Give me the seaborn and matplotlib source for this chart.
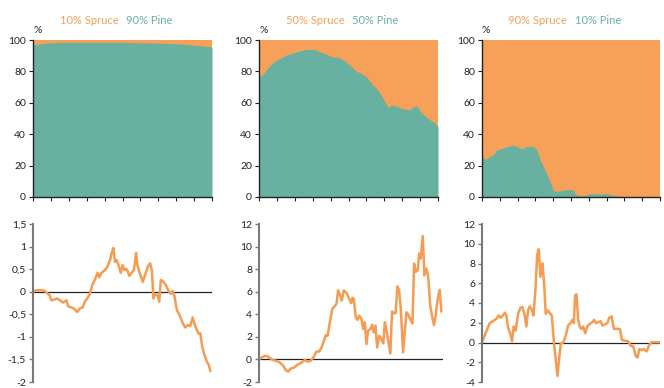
"""Pine share (top) and difference curves (bottom) for three spruce/pine mixes."""
import matplotlib
matplotlib.use("Agg")
import matplotlib.pyplot as plt
import numpy as np
import pandas as pd
import seaborn as sns

ORANGE = "#F6A05A"
TEAL = "#68B0A0"
LINE = "#F59B52"

titles = [("10% Spruce", "90% Pine"), ("50% Spruce", "50% Pine"), ("90% Spruce", "10% Pine")]

# top row: pine share (%) over time, spruce fills the rest up to 100
pine1_x = [0, 3, 8, 14, 30, 50, 60, 70, 80, 85, 90, 95, 100]
pine1_y = [97.2, 97.4, 98.0, 98.5, 98.5, 98.5, 98.2, 98.0, 97.6, 97.2, 96.7, 96.1, 95.6]

pine2_x = [0, 2.2, 6, 9.7, 15.3, 20.9, 26.4, 31.1, 33.9, 37.6, 41.3, 44.1, 47.9, 50.7,
           52.5, 54.4, 56.2, 59.9, 63.7, 66.5, 69.3, 72.1, 73.9, 76.7, 79.5, 82.3, 84.2,
           86, 88.3, 90.7, 93.5, 96.3, 98.1, 100]
pine2_y = [76.6, 78, 83.6, 87, 90.4, 92.5, 94, 94, 92.5, 91, 89, 89, 86.8, 84, 82.3,
           79.8, 79.4, 76.6, 71.3, 68, 62.8, 57, 58.5, 58, 56.4, 56, 55.3, 57.4, 58,
           53.6, 51, 48.5, 47.2, 45]

pine3_x = [0, 1.9, 4.7, 6.5, 8.4, 11.2, 14, 16.8, 19.6, 22.4, 25.2, 29, 30.8, 32.7, 35.5,
           38.3, 40.2, 43.9, 47.7, 51.4, 52.3, 54.2, 57.9, 60.7, 66.4, 70.1, 72, 75.7,
           81.3, 88.8, 100]
pine3_y = [25.5, 24, 26, 27, 30, 31, 32, 33, 32.3, 30.4, 32.3, 32, 30, 23.4, 17, 9.6,
           3.8, 3.8, 4.7, 4.7, 2, 1, 1, 2, 2, 2.1, 1.5, 0.6, 0.2, 0, 0]

# bottom row: difference curves
diff1_x = [0, 1.9, 4.7, 6.5, 8.4, 9.3, 10.3, 12.1, 13.5, 15, 16.8, 18.7, 19.6, 21.5, 22.8,
           24.7, 26.2, 27.7, 29, 30.3, 31.8, 33.1, 34.6, 36.1, 37, 38.3, 40.2, 41.5, 43,
           43.9, 44.9, 45.8, 46.7, 47.7, 49, 50.1, 51, 52, 52.9, 53.8, 55.1, 56.4, 57.6,
           58.3, 59.4, 61.3, 62.6, 64.1, 65.4, 66.4, 67.3, 68.2, 69.5, 70.5, 71.4, 72.9,
           74.2, 75.7, 77, 78.1, 79.1, 80.4, 81.9, 83.7, 85, 86.4, 87.9, 89.2, 90.7, 92.5,
           93.5, 94.4, 95.7, 97.2, 98.1, 99.1]
diff1_y = [0, 0.03, 0.03, 0.02, -0.05, -0.08, -0.19, -0.17, -0.15, -0.19, -0.24, -0.19,
           -0.32, -0.35, -0.37, -0.45, -0.37, -0.35, -0.22, -0.15, -0.05, 0.15, 0.27, 0.42,
           0.32, 0.42, 0.48, 0.55, 0.7, 0.85, 0.97, 0.66, 0.7, 0.6, 0.42, 0.59, 0.48, 0.51,
           0.46, 0.35, 0.42, 0.48, 0.86, 0.59, 0.44, 0.22, 0.37, 0.55, 0.63, 0.48, -0.15,
           -0.05, -0.08, -0.22, 0.26, 0.22, 0.15, 0.02, -0.05, 0.02, -0.11, -0.41, -0.52,
           -0.7, -0.79, -0.74, -0.76, -0.57, -0.77, -0.93, -0.92, -1.19, -1.39, -1.56,
           -1.61, -1.76]

diff2_x = [0, 1.4, 3.3, 4.5, 6, 7.8, 9.6, 11.4, 13.2, 14.6, 15.9, 17.2, 19, 20.8, 23.1, 25,
           26.2, 28, 29.5, 31.3, 32.7, 34, 35.3, 36.3, 37.3, 38.5, 39.8, 41.2, 42.1, 43,
           43.9, 45, 46.1, 47.6, 49, 50.1, 50.8, 51.5, 52.6, 53.5, 54.4, 55.7, 56.6, 57.5,
           58.4, 59.3, 60.6, 61.5, 62.4, 63.3, 64.2, 65.3, 66.5, 67.5, 68.4, 69.3, 70.2,
           71.4, 72.3, 73.4, 74.3, 75.2, 76.1, 77, 78.3, 79.2, 80.1, 81, 82.3, 83.4, 84.3,
           85.2, 86.3, 87, 87.9, 89, 89.9, 90.9, 91.9, 93.1, 94.2, 95.1, 96, 97.1, 98.2, 99.1]
diff2_y = [0, 0.17, 0.32, 0.29, 0.1, -0.07, -0.13, -0.28, -0.57, -0.96, -1.08, -0.81,
           -0.72, -0.48, -0.28, -0.04, -0.19, -0.13, 0.17, 0.7, 0.7, 1.06, 1.65, 2.16, 2.1,
           3.29, 4.48, 4.72, 4.93, 6.11, 5.76, 5.22, 6.11, 5.88, 5.37, 4.99, 5.46, 5.37,
           3.73, 3.5, 3.88, 3.59, 2.7, 3.29, 1.36, 2.55, 2.7, 3.08, 2.4, 2.99, 1.06, 2.1,
           1.8, 1.42, 3.29, 2.55, 1.65, 0.53, 4.24, 4.09, 4.12, 6.47, 6.17, 4.63, 0.62, 2.4,
           4.18, 4.03, 3.5, 3.2, 8.49, 7.75, 7.9, 9.38, 8.94, 10.93, 7.45, 8.05, 7.45, 4.69,
           3.73, 3.05, 3.88, 5.37, 6.17, 4.24]

diff3_x = [0, 1.5, 3, 4.3, 6.2, 8.1, 9.4, 10.5, 11.8, 12.8, 13.7, 14.6, 15.9, 16.9, 17.8,
           18.9, 20.3, 21.6, 22.7, 24, 24.9, 25.9, 26.8, 28, 28.9, 30, 31, 31.9, 32.8, 34,
           34.9, 35.8, 37, 38.1, 39.2, 40.5, 41.5, 42.4, 43.3, 44.3, 45.6, 46.9, 48.4, 49.7,
           50.8, 51.6, 52.3, 53.1, 54, 55, 55.9, 56.8, 58, 59.1, 60.6, 62.1, 62.9, 64, 65.3,
           66.6, 67.7, 69, 70.4, 71.5, 72.8, 74.1, 75.6, 77.5, 78.6, 80.3, 82.2, 83.5, 85,
           86.3, 87.4, 88.4, 89.7, 91, 92.5, 94, 95.3, 97.2, 100]
diff3_y = [0, 0.7, 1.38, 1.96, 2.16, 2.4, 2.74, 2.5, 2.74, 3.01, 2.74, 1.55, 0.87, 0.12,
           1.62, 1.21, 2.91, 3.52, 3.59, 2.74, 1.62, 3.25, 3.66, 3.32, 2.74, 5.29, 8.87,
           9.45, 6.65, 8.02, 5.97, 2.91, 3.25, 2.98, 2.74, -0.15, -1.86, -3.39, -1.69,
           -0.09, 0, 0.6, 1.72, 1.96, 2.3, 1.96, 4.78, 4.88, 2.3, 1.55, 1.38, 1.62, 0.94,
           1.62, 1.89, 2.06, 2.3, 1.96, 2.06, 2.16, 1.72, 1.82, 1.96, 2.5, 2.64, 1.38, 1.38,
           1.38, 0.26, 0.19, 0.12, -0.32, -0.39, -1.35, -1.52, -0.66, -0.77, -0.66, -0.9,
           -0.22, 0.02, 0.02, 0.02]

pine = [(pine1_x, pine1_y), (pine2_x, pine2_y), (pine3_x, pine3_y)]
diffs = [(diff1_x, diff1_y), (diff2_x, diff2_y), (diff3_x, diff3_y)]
ylims = [(-2, 1.5, 0.5), (-2, 12, 2), (-4, 12, 2)]


def comma(v, pos=None):
    s = f"{v:g}"
    return s.replace(".", ",")


sns.set_theme(style="ticks")
plt.rcParams["font.family"] = ["Lato", "DejaVu Sans"]

fig = plt.figure(figsize=(6.64, 3.88), dpi=100)

top_pos = [(33, 212), (259, 438), (482, 660)]
bot_pos = [(33, 212), (259, 443), (482, 660)]
W, H = 664, 388

for i in range(3):
    # stacked area: pine below, spruce on top
    x0, x1 = top_pos[i]
    ax = fig.add_axes([x0 / W, 1 - 197 / H, (x1 - x0) / W, (197 - 40) / H])
    px, py = pine[i]
    df = pd.DataFrame({"t": px, "pine": py})
    ax.fill_between(df["t"], 0, 100, color=ORANGE, lw=0)
    ax.fill_between(df["t"], 0, df["pine"], color=TEAL, lw=0)
    ax.set_xlim(0, 100)
    ax.set_ylim(0, 100)
    ax.set_xticks(np.arange(0, 101, 10))
    ax.set_xticklabels([])
    ax.set_yticks(np.arange(0, 101, 20))
    ax.tick_params(axis="both", length=3, width=0.8, color="#222", labelsize=7.5,
                   labelcolor="#222", pad=2)
    sns.despine(ax=ax)
    for s in ("left", "bottom"):
        ax.spines[s].set_color("#222")
        ax.spines[s].set_linewidth(1.0)
    ax.text(0, 1.03, "%", transform=ax.transAxes, fontsize=7.5, color="#222",
            ha="left", va="bottom")
    # two-colour title
    cx = (x0 + x1) / 2 / W
    t1 = fig.text(cx - 0.006, 1 - 20 / H, titles[i][0], color=ORANGE, fontsize=8,
                  ha="right", va="center")
    t2 = fig.text(cx + 0.006, 1 - 20 / H, titles[i][1], color=TEAL, fontsize=8,
                  ha="left", va="center")

    # difference line
    x0, x1 = bot_pos[i]
    ax2 = fig.add_axes([x0 / W, 1 - 382 / H, (x1 - x0) / W, (382 - 224) / H])
    dx, dy = diffs[i]
    dd = pd.DataFrame({"t": dx, "d": dy})
    ax2.axhline(0, color="#222", lw=0.9, zorder=1)
    sns.lineplot(data=dd, x="t", y="d", ax=ax2, color=LINE, lw=1.8, zorder=2,
                 estimator=None, sort=False)
    lo, hi, step = ylims[i]
    ax2.set_ylim(lo, hi)
    ax2.set_xlim(0, 100)
    ax2.set_yticks(np.arange(lo, hi + step / 2, step))
    ax2.yaxis.set_major_formatter(matplotlib.ticker.FuncFormatter(comma))
    ax2.set_xlabel("")
    ax2.set_ylabel("")
    ax2.set_xticks([])
    for s in ("top", "right", "bottom"):
        ax2.spines[s].set_visible(False)
    ax2.spines["left"].set_color("#7a7a7a")
    ax2.spines["left"].set_linewidth(1.5)
    ax2.tick_params(axis="y", length=3, width=1.0, color="#7a7a7a", labelsize=7.5,
                    labelcolor="#222", pad=2)

fig.savefig("out.png", dpi=100)
